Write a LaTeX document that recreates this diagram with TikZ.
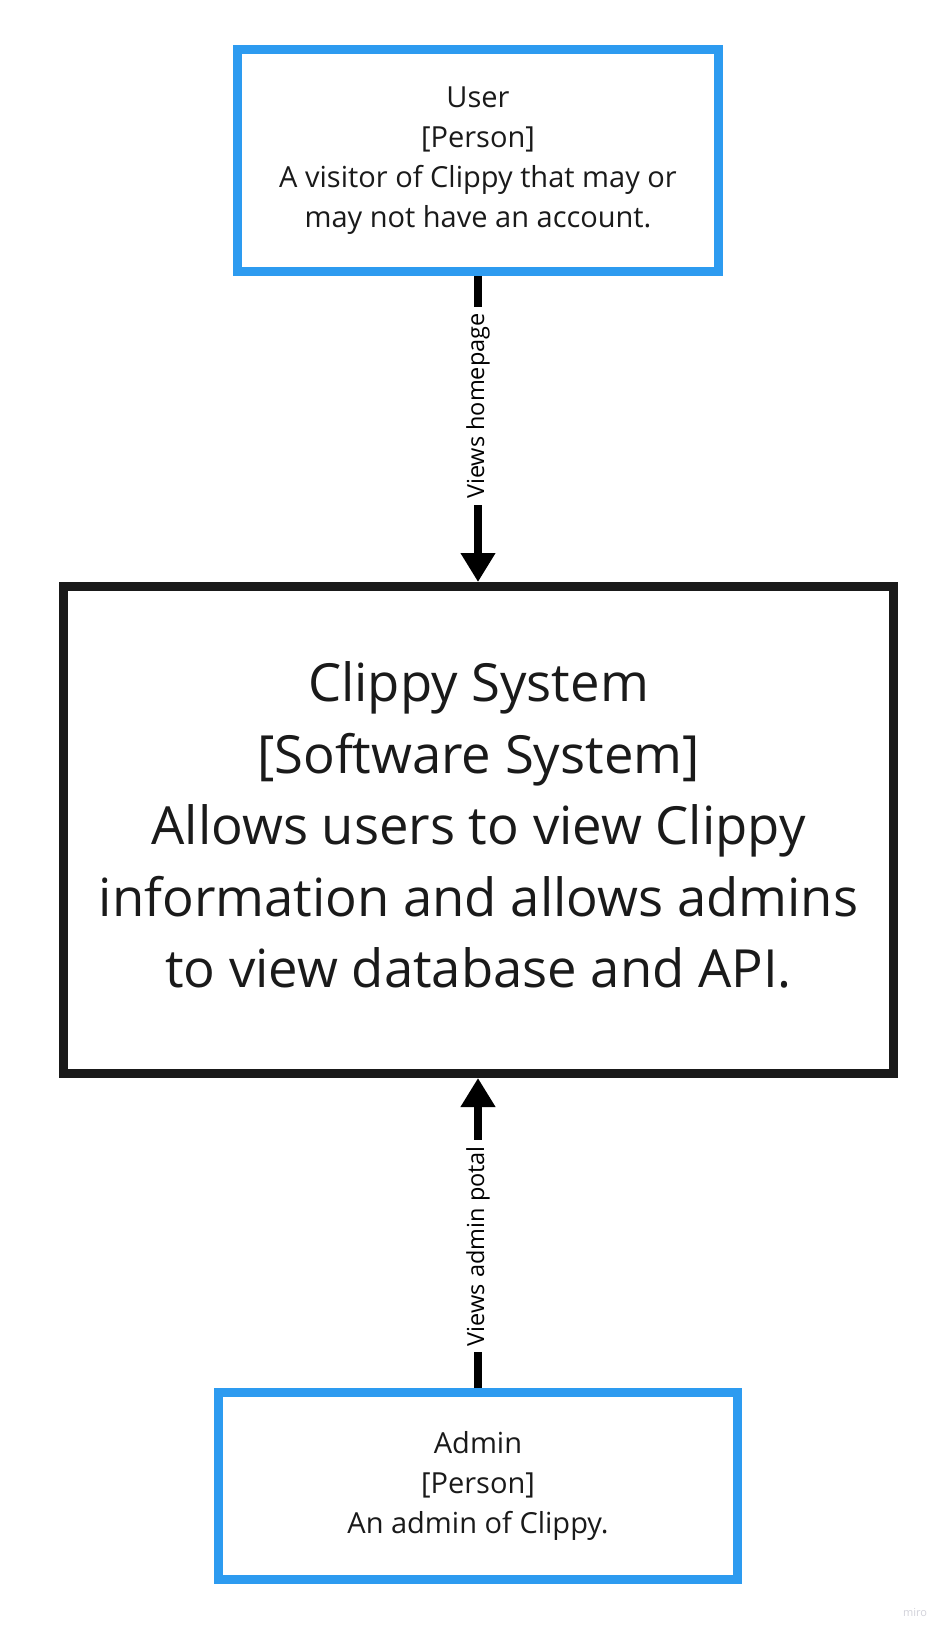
\documentclass[tikz,border=0pt]{standalone}
\usepackage{fontspec}
\setmainfont{Open Sans}
\usetikzlibrary{arrows.meta}
\definecolor{miroblue}{HTML}{2D9BF0}
\definecolor{darkline}{HTML}{1A1A1A}
\definecolor{wmgray}{HTML}{D2D2DA}
\begin{document}
\begin{tikzpicture}[x=1pt,y=-1pt,
  personbox/.style={draw=miroblue, line width=9pt, align=center, text=darkline,
    font=\fontsize{29}{40}\selectfont, inner sep=0pt},
  systembox/.style={draw=darkline, line width=9pt, align=center, text=darkline,
    font=\fontsize{52.6}{71.5}\selectfont, inner sep=0pt},
  relarrow/.style={draw=black, line width=8pt, -{Triangle[length=29pt,width=33pt]}},
  rellabel/.style={fill=white, rotate=90, text=black, font=\fontsize{23.5}{28}\selectfont,
    inner xsep=6pt, inner ysep=2pt}
]
\useasboundingbox[fill=white] (0,0) rectangle (952,1640);

\node[personbox, minimum width=481pt, minimum height=222pt] (user) at (478,160.5)
  {User\\{}[Person]\\A visitor of Clippy that may or\\may not have an account.};

\node[systembox, minimum width=830pt, minimum height=487pt] (sys) at (478.5,830) {};
\node[systembox, draw=none] (systext) at (478.5,825)
  {Clippy System\\{}[Software System]\\Allows users to view Clippy\\information and allows admins\\to view database and API.};

\node[personbox, minimum width=519pt, minimum height=187pt] (admin) at (478,1486)
  {Admin\\{}[Person]\\An admin of Clippy.};

\draw[relarrow] (user.south) -- (user.south |- sys.north)
  node[rellabel, pos=0.425] (l1) {Views homepage};
\draw[relarrow] (admin.north) -- (admin.north |- sys.south)
  node[rellabel, pos=0.458] (l2) {Views admin potal};

\node[text=wmgray, font=\fontsize{11}{13}\selectfont, inner sep=0pt] (wm) at (915,1612) {miro};
\end{tikzpicture}
\end{document}
